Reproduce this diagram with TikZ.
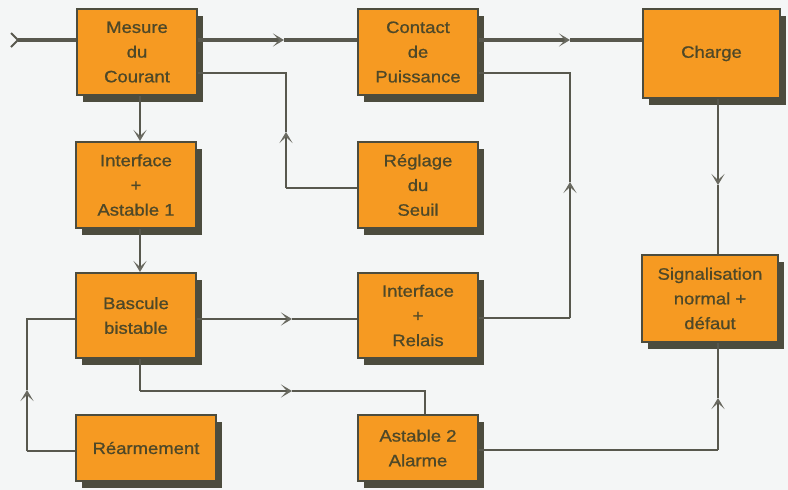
\documentclass[tikz,border=0pt]{standalone}
\usepackage{fontspec}
\setmainfont{Liberation Sans}[FakeStretch=1.12,FakeBold=1.0]
\usetikzlibrary{arrows.meta,shadows,calc}
\definecolor{bgc}{RGB}{244,246,246}
\definecolor{orangec}{RGB}{246,154,34}
\definecolor{bordc}{RGB}{76,76,62}
\definecolor{textc}{RGB}{78,72,40}
\definecolor{linec}{RGB}{88,88,78}
\definecolor{tipc}{RGB}{105,105,96}
\tikzset{
  blk/.style={draw=bordc, line width=2pt, fill=orangec, minimum width=120pt,
    minimum height=86pt, align=center, text=textc, inner sep=0pt,
    font=\fontsize{16.5}{24.7}\selectfont,
    general shadow={fill=bordc, shadow xshift=6pt, shadow yshift=-7pt}},
  wire/.style={draw=linec, line width=1.6pt},
  power/.style={draw=linec, line width=3.4pt},
  tip/.style={-{Stealth[length=11pt,width=13pt,inset=6pt,color=tipc]}},
}
\begin{document}
\begin{tikzpicture}[x=1pt,y=-1pt]
\fill[bgc] (0,0) rectangle (788,490);
\useasboundingbox (0,0) rectangle (788,490);

% blocks
\node[blk] (mes) at (137,52) {Mesure\\du\\Courant};
\node[blk] (ia1) at (136,185) {Interface\\+\\Astable 1};
\node[blk, minimum height=85pt] (bas) at (136,315.5) {Bascule\\bistable};
\node[blk, minimum width=140pt, minimum height=66pt] (rea) at (146,448) {R\'earmement};
\node[blk] (con) at (418,52) {Contact\\de\\Puissance};
\node[blk] (reg) at (418,185) {R\'eglage\\du\\Seuil};
\node[blk, minimum height=85pt] (irel) at (418,315.5) {Interface\\+\\Relais};
\node[blk, minimum height=66pt] (ast) at (418,448) {Astable 2\\Alarme};
\node[blk, minimum width=137pt, minimum height=89pt] (cha) at (711.5,53.5) {\raisebox{-4pt}{Charge}};
\node[blk, minimum width=136pt, minimum height=87pt] (sig) at (710,298.5) {Signalisation\\normal +\\d\'efaut};

% coordinates
\coordinate (in) at (10,40);
\coordinate (m1) at (284,40);
\coordinate (m2) at (570,40);
\coordinate (r1) at (286,188);
\coordinate (r2) at (286,132);
\coordinate (r3) at (286,73);
\coordinate (c1) at (570,318);
\coordinate (c2) at (570,182);
\coordinate (c3) at (570,73);
\coordinate (h1) at (718,185);
\coordinate (b1) at (292,319);
\coordinate (d1) at (140,391);
\coordinate (d2) at (292,391);
\coordinate (d3) at (425,391);
\coordinate (e1) at (27,451);
\coordinate (e2) at (27,390);
\coordinate (e3) at (27,319);
\coordinate (f1) at (718,450);
\coordinate (f2) at (718,398);

% power line
\draw[power, {Straight Barb[reversed,length=7pt,width=14pt,line width=2pt]}-] (in) -- (mes.west |- in);
\draw[power, tip] (mes.east |- m1) -- (m1);
\draw[power] (m1) -- (con.west |- m1);
\draw[power, tip] (con.east |- m2) -- (m2);
\draw[power] (m2) -- (cha.west |- m2);

% threshold
\draw[wire] (reg.west |- r1) -- (r1);
\draw[wire, tip] (r1) -- (r2);
\draw[wire] (r2) -- (r3) -- (mes.east |- r3);

% vertical chain
\draw[wire, tip] (mes.south -| d1) -- (ia1.north -| d1);
\draw[wire, tip] (ia1.south -| d1) -- (bas.north -| d1);

% relay to contact
\draw[wire] (irel.east |- c1) -- (c1);
\draw[wire, tip] (c1) -- (c2);
\draw[wire] (c2) -- (c3) -- (con.east |- c3);

% charge to signal
\draw[wire, tip] (cha.south -| h1) -- (h1);
\draw[wire] (h1) -- (sig.north -| h1);

% bascule to relay
\draw[wire, tip] (bas.east |- b1) -- (b1);
\draw[wire] (b1) -- (irel.west |- b1);

% bascule to astable 2
\draw[wire] (bas.south -| d1) -- (d1);
\draw[wire, tip] (d1) -- (d2);
\draw[wire] (d2) -- (d3) -- (ast.north -| d3);

% rearmement to bascule
\draw[wire] (rea.west |- e1) -- (e1);
\draw[wire, tip] (e1) -- (e2);
\draw[wire] (e2) -- (e3) -- (bas.west |- e3);

% astable 2 to signal
\draw[wire] (ast.east |- f1) -- (f1);
\draw[wire, tip] (f1) -- (f2);
\draw[wire] (f2) -- (sig.south -| f2);
\end{tikzpicture}
\end{document}
